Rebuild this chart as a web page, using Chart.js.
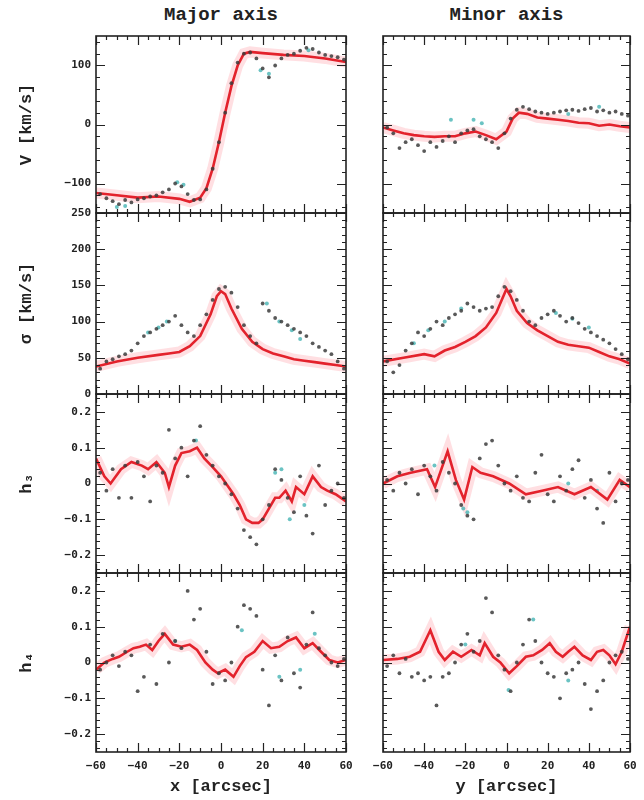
<!DOCTYPE html>
<html>
<head>
<meta charset="utf-8">
<script src="https://cdn.jsdelivr.net/npm/chart.js@4.4.0/dist/chart.umd.min.js"></script>
<style>
  body { margin: 0; background: #fff; width: 644px; height: 800px; position: relative; overflow: hidden; }
  canvas { position: absolute; }
  .titulo { position: absolute; top: 4px; text-align: center; font: bold 19px "Liberation Mono", monospace; color: #222; }
</style>
</head>
<body>
<div class="titulo" style="left:96px; width:250px">Major axis</div>
<div class="titulo" style="left:383px; width:247px">Minor axis</div>
<script>
// posiciones de los datos (arcsec), comunes a todos los paneles
const posDatos = [-58,-55,-52,-49,-46,-43,-40,-37,-34,-31,-28,-25,-22,-19,-16,-13,-10,-7,-4,-1,2,5,8,11,14,17,20,23,26,29,32,35,38,41,44,47,50,53,56,59];

// V [km/s]
const datosV_mayor = [-118,-125,-130,-135,-128,-132,-127,-125,-122,-120,-115,-110,-100,-105,-118,-128,-127,-110,-75,-30,20,70,105,120,122,112,95,80,100,112,118,120,125,130,128,122,118,116,114,110];
const datosV_menor = [-5,-15,-40,-30,-25,-35,-45,-30,-38,-28,-20,-30,-15,-10,-8,-20,-25,-30,-40,-15,10,25,30,26,22,20,18,20,22,24,25,23,26,28,22,24,20,22,18,15];
const modeloX_V_mayor = [-60,-50,-40,-30,-20,-15,-10,-7,-4,-1,2,5,8,11,14,20,30,40,50,60];
const modeloV_mayor = [-116,-120,-124,-122,-126,-131,-124,-108,-75,-30,20,65,100,120,123,121,118,116,112,106];
const modeloX_V_menor = [-60,-55,-50,-45,-40,-35,-30,-25,-20,-15,-10,-5,0,3,6,10,15,20,25,30,35,40,45,50,55,60];
const modeloV_menor = [-5,-10,-15,-18,-20,-21,-20,-20,-15,-12,-18,-25,-12,10,20,18,12,10,8,6,3,2,-2,0,-3,-5];
const cianX_V_mayor = [-50,-46,-21,-18,19,23,42];
const cianV_mayor = [-140,-138,-98,-102,92,86,126];
const cianX_V_menor = [-27,-16,-12,30,45];
const cianV_menor = [8,8,2,18,30];

// sigma [km/s]
const datosS_mayor = [35,45,48,52,55,60,70,80,85,90,95,100,108,95,85,80,95,110,130,145,148,140,120,95,80,70,125,115,105,100,95,90,85,80,70,65,60,55,45,35];
const datosS_menor = [45,30,40,60,70,85,80,90,100,95,105,110,115,125,120,115,118,120,135,148,142,130,115,100,95,105,110,115,108,100,105,98,90,85,80,75,70,62,55,48];
const modeloX_S_mayor = [-60,-50,-40,-30,-25,-20,-15,-10,-5,-2,0,2,5,10,15,20,25,30,35,40,45,50,55,60];
const modeloS_mayor = [38,45,50,54,56,58,66,80,110,135,142,138,118,90,72,62,56,52,48,46,44,42,40,38];
const modeloX_S_menor = [-60,-50,-40,-35,-30,-25,-20,-15,-10,-5,-2,0,2,5,10,15,20,25,30,35,40,45,50,55,60];
const modeloS_menor = [45,50,55,52,60,65,72,80,92,112,132,145,135,115,98,88,80,72,68,66,64,58,52,48,42];
const cianX_S_mayor = [-35,-30,-26,22,28,34,38];
const cianS_mayor = [85,92,100,125,100,88,76];
const cianX_S_menor = [-45,-38,-30,-22,24,32,40];
const cianS_menor = [70,88,100,118,112,104,92];

// h3
const datosH3_mayor = [0.03,-0.02,0.04,-0.04,0.05,-0.04,0.06,0.02,-0.05,0.05,0.03,0.15,0.07,0.1,0.02,0.12,0.16,0.08,0.05,0.02,0.0,-0.03,-0.07,-0.13,-0.15,-0.17,-0.1,-0.06,0.04,0.01,-0.04,-0.08,0.02,-0.09,-0.14,0.05,-0.06,-0.02,0.0,-0.04];
const datosH3_menor = [0.01,-0.02,0.03,0.0,0.04,-0.03,0.05,0.02,-0.02,0.06,0.03,0.0,-0.06,-0.09,-0.1,0.07,0.11,0.12,0.05,0.0,-0.02,0.02,-0.04,-0.05,0.03,0.08,-0.03,-0.05,0.02,-0.02,0.04,0.065,-0.04,0.01,-0.07,-0.11,0.03,-0.05,0.0,0.01];
const modeloX_H3_mayor = [-60,-56,-53,-48,-43,-38,-35,-31,-27,-25,-22,-19,-15,-11.5,-8,-4,0,3,6,9,12,15,18,20,23,26,28,31,34,36,40,44,48,51,55,60];
const modeloH3_mayor = [0.07,0.02,0,0.04,0.06,0.05,0.04,0.06,0.03,-0.01,0.05,0.085,0.09,0.1,0.07,0.046,0.02,-0.005,-0.03,-0.06,-0.1,-0.11,-0.11,-0.1,-0.07,-0.04,-0.04,-0.02,-0.05,-0.01,-0.03,0.02,-0.01,-0.02,-0.03,-0.05];
const modeloX_H3_menor = [-60,-53,-46.6,-38.6,-34.7,-28.6,-24.6,-20.6,-16.6,-12.6,-6.5,1.3,9.4,17.3,25,33,41,49,55,60];
const modeloH3_menor = [0,0.02,0.03,0.04,-0.01,0.09,0.01,-0.045,0.046,0.03,0.02,0,-0.03,-0.02,-0.01,-0.03,-0.01,-0.045,0.01,-0.01];
const cianX_H3_mayor = [-12,26,29,33,40];
const cianH3_mayor = [0.12,0.03,0.04,-0.1,-0.06];
const cianX_H3_menor = [-21,-19,-35,30,44];
const cianH3_menor = [-0.07,-0.08,0.05,0.0,-0.02];

// h4
const datosH4_mayor = [-0.02,0.0,0.02,-0.01,0.03,0.02,-0.08,-0.04,0.05,-0.06,0.08,0.0,0.06,0.04,0.2,0.12,0.15,0.03,-0.06,-0.03,-0.05,0.0,0.1,0.16,0.15,0.13,-0.02,-0.12,0.02,-0.05,0.07,-0.03,-0.07,0.05,0.14,0.04,0.02,0.0,-0.01,0.01];
const datosH4_menor = [-0.01,0.02,-0.03,0.01,-0.04,-0.03,-0.05,-0.04,-0.12,-0.04,-0.03,0.0,0.05,0.08,0.03,0.06,0.18,0.14,0.02,-0.02,-0.08,0.0,0.05,0.12,0.06,0.0,-0.03,-0.04,-0.1,-0.03,-0.02,0.0,-0.06,-0.13,-0.08,-0.05,0.0,0.02,0.03,0.01];
const modeloX_H4_mayor = [-60,-56,-52,-49,-45,-42,-39,-36,-33,-30,-27,-23,-19,-15,-11.5,-7.5,-4,-1.5,2,6,9,12,16,20,24,28,32,36,40,44,48,52,56,60];
const modeloH4_mayor = [-0.02,0.0,0.01,0.016,0.03,0.04,0.044,0.05,0.035,0.06,0.08,0.05,0.044,0.05,0.035,0.0,-0.02,-0.03,-0.02,-0.04,-0.01,0.015,0.03,0.06,0.04,0.044,0.06,0.07,0.04,0.054,0.03,0.007,0.0,0.007];
const modeloX_H4_menor = [-60,-53,-47,-42,-37,-33,-30,-26,-22,-17,-13,-10.6,-6.5,-3,1.3,5,9.4,13,17.3,21,24,27.3,30,33,37,41,44,47,50,53,56,60];
const modeloH4_menor = [0.007,0.01,0.016,0.03,0.09,0.03,0.007,0.03,0.016,0.035,0.02,0.054,0.016,0.0,-0.03,-0.01,0.016,0.02,0.035,0.054,0.03,0.016,0.03,0.044,0.02,0.007,0.03,0.035,0.02,-0.005,0.03,0.1];
const cianX_H4_mayor = [-22,10,28,38,45];
const cianH4_mayor = [0.06,0.09,-0.04,-0.02,0.08];
const cianX_H4_menor = [13,1,-20,30];
const cianH4_menor = [0.12,-0.077,0.05,-0.05];

// etiquetas de los ejes
const ticksX = [-60,-40,-20,0,20,40,60];
const ticksV = [-100,0,100];
const ticksSigma = [0,50,100,150,200,250];
const ticksH = [-0.2,-0.1,0,0.1,0.2];

const puntos = (xs, ys) => xs.map((x, i) => ({ x: x, y: ys[i] }));
const formato = v => {
  const r = Math.round(v * 100) / 100;
  return r < 0 ? '\u2212' + Math.abs(r) : String(r);
};

// marco y marcas hacia dentro en los cuatro lados
const marcoPlugin = {
  id: 'marco',
  afterDatasetsDraw(chart, args, opts) {
    const { ctx, chartArea: a, scales } = chart;
    const x = scales.x, y = scales.y;
    const esMayor = (v, m) => Math.abs(v / m - Math.round(v / m)) < 1e-6;
    ctx.save();
    ctx.strokeStyle = '#222';
    ctx.lineWidth = 1.2;
    ctx.beginPath();
    for (let v = x.min; v <= x.max + 1e-9; v += opts.xMenor) {
      const px = Math.round(x.getPixelForValue(v)) + 0.5;
      const l = esMayor(v, opts.xMayor) ? 9 : 4;
      ctx.moveTo(px, a.top); ctx.lineTo(px, a.top + l);
      ctx.moveTo(px, a.bottom); ctx.lineTo(px, a.bottom - l);
    }
    const inicio = Math.ceil(y.min / opts.yMenor - 1e-6) * opts.yMenor;
    for (let i = 0; ; i++) {
      const v = inicio + i * opts.yMenor;
      if (v > y.max + 1e-9) break;
      const py = Math.round(y.getPixelForValue(v)) + 0.5;
      const l = esMayor(v, opts.yMayor) ? 9 : 4;
      ctx.moveTo(a.left, py); ctx.lineTo(a.left + l, py);
      ctx.moveTo(a.right, py); ctx.lineTo(a.right - l, py);
    }
    ctx.stroke();
    ctx.lineWidth = 1.6;
    ctx.strokeRect(a.left, a.top, a.right - a.left, a.bottom - a.top);
    ctx.restore();
  }
};

// fija el tamaño de cada eje y quita el relleno extra de las etiquetas
const fijarEje = (ancho, alto) => s => {
  if (s.options.display) {
    if (ancho !== null) s.width = ancho;
    if (alto !== null) s.height = alto;
  }
  s.paddingTop = 0; s.paddingBottom = 0; s.paddingLeft = 0; s.paddingRight = 0;
};

const margen = 8;
const columnas = [
  { left: 0, width: 360, padIzq: 0, padDer: 14, ejeX: 'x [arcsec]' },
  { left: 369, width: 275, padIzq: 14, padDer: 14, ejeX: 'y [arcsec]' }
];
const filas = [
  { top: 36, bottom: 213, min: -150, max: 150, ticks: ticksV, yMayor: 100, yMenor: 20, titulo: 'V [km/s]' },
  { top: 213, bottom: 394, min: 0, max: 250, ticks: ticksSigma, yMayor: 50, yMenor: 10, titulo: '\u03c3 [km/s]' },
  { top: 394, bottom: 573, min: -0.25, max: 0.25, ticks: ticksH, yMayor: 0.1, yMenor: 0.02, titulo: 'h\u2083' },
  { top: 573, bottom: 752, min: -0.25, max: 0.25, ticks: ticksH, yMayor: 0.1, yMenor: 0.02, titulo: 'h\u2084' }
];

const paneles = [
  [ [posDatos, datosV_mayor, modeloX_V_mayor, modeloV_mayor, cianX_V_mayor, cianV_mayor],
    [posDatos, datosV_menor, modeloX_V_menor, modeloV_menor, cianX_V_menor, cianV_menor] ],
  [ [posDatos, datosS_mayor, modeloX_S_mayor, modeloS_mayor, cianX_S_mayor, cianS_mayor],
    [posDatos, datosS_menor, modeloX_S_menor, modeloS_menor, cianX_S_menor, cianS_menor] ],
  [ [posDatos, datosH3_mayor, modeloX_H3_mayor, modeloH3_mayor, cianX_H3_mayor, cianH3_mayor],
    [posDatos, datosH3_menor, modeloX_H3_menor, modeloH3_menor, cianX_H3_menor, cianH3_menor] ],
  [ [posDatos, datosH4_mayor, modeloX_H4_mayor, modeloH4_mayor, cianX_H4_mayor, cianH4_mayor],
    [posDatos, datosH4_menor, modeloX_H4_menor, modeloH4_menor, cianX_H4_menor, cianH4_menor] ]
];

const fuenteTicks = { family: 'DejaVu Sans Mono', size: 11, weight: 'bold' };
const fuenteTitulo = { family: 'Liberation Mono', size: 17, weight: 'bold' };

filas.forEach((fila, r) => {
  columnas.forEach((col, c) => {
    const ultima = r === filas.length - 1;
    const [dx, dy, mx, my, cx, cy] = paneles[r][c];
    const canvas = document.createElement('canvas');
    canvas.width = col.width;
    canvas.height = fila.bottom - fila.top + 2 * margen + (ultima ? 48 : 0);
    canvas.style.left = col.left + 'px';
    canvas.style.top = (fila.top - margen) + 'px';
    document.body.appendChild(canvas);

    new Chart(canvas, {
      type: 'scatter',
      data: {
        datasets: [
          { data: puntos(dx, dy), pointRadius: 1.9, backgroundColor: 'rgba(60,60,60,0.85)', borderWidth: 0, order: 0, clip: 0 },
          { data: puntos(mx, my), showLine: true, pointRadius: 0, borderColor: '#e3222c', borderWidth: 2.6, order: 1, clip: 0 },
          { data: puntos(cx, cy), pointRadius: 2, backgroundColor: 'rgba(70,180,180,0.8)', borderWidth: 0, order: 2, clip: 0 },
          { data: puntos(mx, my), showLine: true, pointRadius: 0, borderColor: 'rgba(255,150,160,0.3)', borderWidth: 11, order: 3, clip: 0 }
        ]
      },
      options: {
        responsive: false,
        animation: false,
        events: [],
        layout: { padding: { left: col.padIzq, right: col.padDer, top: margen, bottom: margen } },
        plugins: {
          legend: { display: false },
          tooltip: { enabled: false },
          marco: { xMayor: 20, xMenor: 5, yMayor: fila.yMayor, yMenor: fila.yMenor }
        },
        scales: {
          x: {
            type: 'linear', min: -60, max: 60, display: ultima,
            grid: { display: false, drawTicks: false }, border: { display: false },
            afterBuildTicks: s => { s.ticks = ticksX.map(v => ({ value: v })); },
            afterFit: fijarEje(null, 48),
            ticks: { padding: 8, color: '#222', font: fuenteTicks, maxRotation: 0, autoSkip: false, callback: formato },
            title: { display: true, text: col.ejeX, color: '#222', font: fuenteTitulo, padding: { top: 0, bottom: 3 } }
          },
          y: {
            type: 'linear', min: fila.min, max: fila.max, display: c === 0,
            grid: { display: false, drawTicks: false }, border: { display: false },
            afterBuildTicks: s => { s.ticks = fila.ticks.map(v => ({ value: v })); },
            afterFit: fijarEje(96, null),
            ticks: { padding: 5, color: '#222', font: fuenteTicks, autoSkip: false, callback: formato },
            title: { display: true, text: fila.titulo, color: '#222', font: fuenteTitulo, padding: { top: 17, bottom: 0 } }
          }
        }
      },
      plugins: [marcoPlugin]
    });
  });
});
</script>
</body>
</html>
